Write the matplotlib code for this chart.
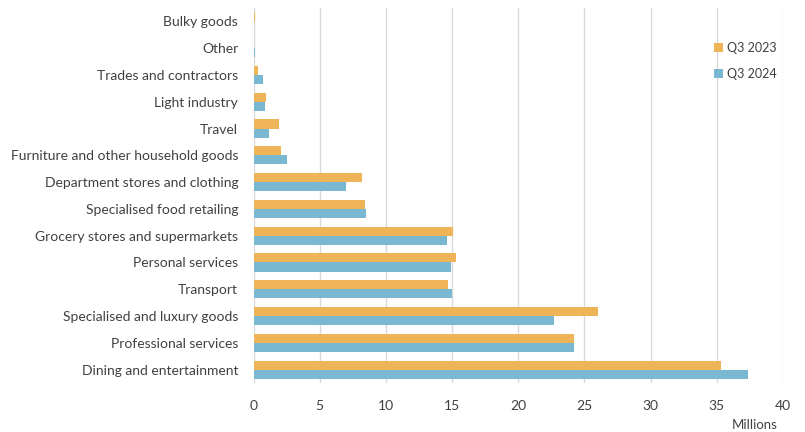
import matplotlib.pyplot as plt
import numpy as np

categories = ["Dining and entertainment", "Professional services", "Specialised and luxury goods",
              "Transport", "Personal services", "Grocery stores and supermarkets",
              "Specialised food retailing", "Department stores and clothing",
              "Furniture and other household goods", "Travel", "Light industry",
              "Trades and contractors", "Other", "Bulky goods"]
q3_2023 = [35.3, 24.2, 26.0, 14.7, 15.3, 15.1, 8.4, 8.2, 2.1, 1.95, 0.95, 0.35, 0.05, 0.15]
q3_2024 = [37.35, 24.2, 22.7, 15.0, 14.9, 14.6, 8.5, 7.0, 2.5, 1.2, 0.85, 0.7, 0.15, 0.05]

plt.rcParams['font.family'] = ['Lato', 'DejaVu Sans']
txt = "#404040"

fig = plt.figure(figsize=(8.05, 4.32), dpi=100)
ax = fig.add_axes([253.5 / 805, 1 - 383 / 432, (783 - 253.5) / 805, 375 / 432])

y = np.arange(len(categories))
h = 0.34
ax.barh(y + h / 2, q3_2023, height=h, color="#F0B458", label="Q3 2023", zorder=3)
ax.barh(y - h / 2, q3_2024, height=h, color="#7AB8D1", label="Q3 2024", zorder=3)

ax.set_xlim(0, 40)
ax.set_ylim(-0.5, len(categories) - 0.5)
ax.set_xticks(range(0, 41, 5))
ax.set_yticks(y)
ax.set_yticklabels(categories)
ax.tick_params(axis="both", length=0, labelsize=10, colors=txt)
ax.tick_params(axis="x", pad=12)
ax.tick_params(axis="y", pad=11)
ax.grid(axis="x", color="#d9d9d9", linewidth=1, zorder=0)
for s in ax.spines.values():
    s.set_visible(False)

fig.text(778 / 805, 1 - 425 / 432, "Millions", ha="right", va="center", fontsize=9.5, color=txt)

ax.legend(loc="upper right", bbox_to_anchor=(1.01, 0.94), frameon=False, fontsize=9,
          labelcolor=txt, handlelength=0.75, handleheight=0.75, handletextpad=0.35, labelspacing=1.15)

plt.savefig("out.png")
